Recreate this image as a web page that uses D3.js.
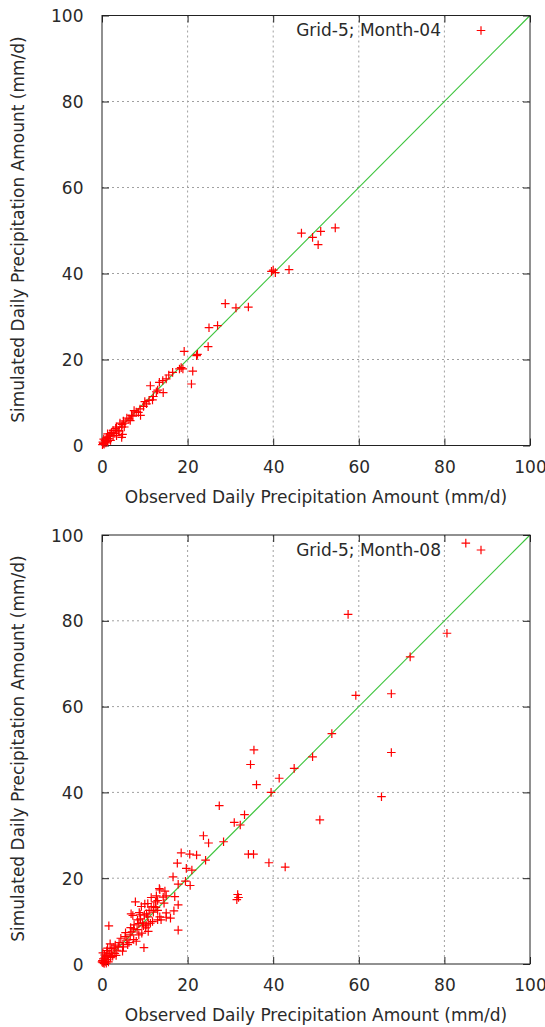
<!DOCTYPE html>
<html><head><meta charset="utf-8">
<script src="https://cdn.jsdelivr.net/npm/d3@7"></script>
<style>body{margin:0;background:#fff}svg{display:block}text{font-family:"DejaVu Sans",sans-serif;fill:#2a2a2a}</style>
</head><body>
<svg id="c" width="545" height="1027"></svg>
<script>
const tickValues = [0, 20, 40, 60, 80, 100];
const xTitle = "Observed Daily Precipitation Amount (mm/d)";
const yTitle = "Simulated Daily Precipitation Amount (mm/d)";
const titles = ["Grid-5; Month-04", "Grid-5; Month-08"];

// Month-04: observed, simulated
const obs04 = [54.5,51.1,46.6,49.2,50.5,43.7,39.6,40.5,40.0,28.8,31.3,34.2,25.0,27.0,24.8,19.2,22.1,22.3,21.2,20.9,18.1,18.9,18.5,15.6,14.2,13.4,11.3,14.3,12.7,12.0,11.8,10.4,9.7,8.9,8.5,9.0,6.9,6.3,7.5,5.0,5.4,4.2,4.6,5.2,3.4,4.6,2.6,1.9,2.6,1.5,0.7,0.3,1.1,3.8,3.4,0.1,0.5,0.2,0.9,1.3,0.4,2.0,1.7,2.2,3.0,4.0,3.2,4.8,5.8,6.6,7.2,8.0,10.0,11.0,13.0,15.0,16.5,4.7,1.3];
const sim04 = [50.6,49.8,49.4,48.4,46.7,40.9,40.5,40.2,40.8,33.0,32.0,32.2,27.4,27.9,23.0,21.9,20.9,21.2,17.3,14.3,17.8,17.8,18.1,16.4,15.1,14.7,13.9,12.3,12.5,11.4,10.6,9.7,9.1,8.5,7.7,7.0,7.0,6.2,8.1,5.7,5.2,5.2,4.3,4.3,4.3,1.9,3.5,2.7,2.3,1.6,1.2,0.5,1.9,3.5,2.3,0.2,0.3,0.8,0.6,0.9,1.5,1.2,2.2,3.0,2.8,3.2,4.0,2.6,6.4,5.8,6.8,7.8,10.2,10.5,12.9,15.5,17.0,4.9,2.7];

// Month-08: observed, simulated
const obs08 = [85.0,57.5,80.6,72.0,59.3,67.6,53.7,35.5,34.7,67.6,49.2,44.9,41.4,36.1,39.5,65.3,27.4,33.3,50.9,30.9,32.3,23.7,24.9,28.4,34.2,35.4,39.0,42.8,18.5,20.5,22.1,24.2,17.6,19.7,21.0,16.6,17.8,19.5,20.6,31.7,31.9,31.5,13.4,13.5,14.7,12.7,15.0,17.0,14.3,7.8,9.2,11.5,12.1,17.8,16.8,15.0,10.4,6.8,7.2,8.9,10.7,13.5,15.0,16.0,13.8,11.8,1.6,8.6,10.8,6.7,7.4,9.7,10.2,9.3,8.6,10.8,17.8,6.6,5.4,4.4,5.8,7.4,4.0,6.3,4.9,9.8,3.1,1.9,3.8,2.3,4.8,3.0,1.1,0.6,0.2,0.5,0.8,1.2,0.3,1.5,2.0,0.1,0.9,1.8,2.5,0.4,1.0,0.0,0.6,1.4,2.2,3.5,2.8,3.3,0.2,1.3,5.0,6.0,8.0,7.0,5.5,8.2,12.0,13.0,14.5,9.0,11.0,12.5,11.5,10.0,13.0,10.7,12.6,8.7,9.9,8.3,7.5,9.5,10.3,13.0,11.3];
const sim08 = [98.1,81.5,77.1,71.6,62.6,63.0,53.7,49.9,46.5,49.3,48.3,45.6,43.3,41.8,40.0,39.0,36.9,34.8,33.6,33.0,32.4,29.9,28.2,28.5,25.6,25.6,23.6,22.6,25.9,25.6,25.4,24.2,23.5,22.3,21.9,20.3,18.6,19.3,18.3,16.2,15.5,15.0,17.6,17.3,17.0,15.9,15.9,15.7,15.6,14.5,13.4,13.3,13.4,13.8,12.4,11.9,11.7,11.7,11.3,11.6,11.0,11.0,10.9,10.7,10.3,9.9,8.9,9.4,9.5,8.5,8.2,8.9,8.4,7.2,6.8,7.6,7.9,6.8,6.4,6.0,5.6,5.7,5.0,5.0,4.6,3.8,4.4,4.7,4.0,3.6,3.0,2.5,3.1,2.1,0.3,0.1,0.6,1.0,1.2,0.5,1.5,0.8,1.8,2.4,1.8,0.4,0.2,0.5,1.4,2.0,2.8,3.2,3.9,2.0,2.6,3.7,4.0,4.5,5.3,7.5,7.3,8.0,12.1,12.5,14.2,10.5,12.5,14.5,15.5,14.0,14.8,14.1,13.2,12.0,11.4,10.3,9.1,9.6,9.1,10.3,9.5];

const svg = d3.select("#c");
const FS = "17px";

function panel(top, bottom, obs, sim, title) {
  const left = 102, right = 530;
  const x = d3.scaleLinear().domain([0, 100]).range([left, right]);
  const y = d3.scaleLinear().domain([0, 100]).range([bottom, top]);
  const g = svg.append("g");

  // grid
  g.append("g").selectAll("line").data(tickValues.slice(1, -1)).join("line")
    .attr("x1", d => x(d)).attr("x2", d => x(d)).attr("y1", top).attr("y2", bottom)
    .attr("stroke", "#a0a0a0").attr("stroke-width", 1).attr("stroke-dasharray", "2,3");
  g.append("g").selectAll("line").data(tickValues.slice(1, -1)).join("line")
    .attr("y1", d => y(d)).attr("y2", d => y(d)).attr("x1", left).attr("x2", right)
    .attr("stroke", "#a0a0a0").attr("stroke-width", 1).attr("stroke-dasharray", "2,3");

  // diagonal
  g.append("line").attr("x1", x(0)).attr("y1", y(0)).attr("x2", x(100)).attr("y2", y(100))
    .attr("stroke", "#3cc43c").attr("stroke-width", 1.1);

  // axes
  const tl = 7;
  const xb = g.append("g").attr("transform", `translate(0,${bottom})`)
    .call(d3.axisBottom(x).tickValues(tickValues).tickSizeInner(-tl).tickSizeOuter(0).tickPadding(14));
  const xt = g.append("g").attr("transform", `translate(0,${top})`)
    .call(d3.axisTop(x).tickValues(tickValues).tickSizeInner(-tl).tickSizeOuter(0).tickFormat(""));
  const yl = g.append("g").attr("transform", `translate(${left},0)`)
    .call(d3.axisLeft(y).tickValues(tickValues).tickSizeInner(-tl).tickSizeOuter(0).tickPadding(18.5));
  const yr = g.append("g").attr("transform", `translate(${right},0)`)
    .call(d3.axisRight(y).tickValues(tickValues).tickSizeInner(-tl).tickSizeOuter(0).tickFormat(""));
  [xb, xt, yl, yr].forEach(a => {
    a.select(".domain").remove();
    a.selectAll("line").attr("stroke", "#222");
    a.selectAll("text").attr("font-family", "DejaVu Sans").attr("font-size", FS).attr("fill", "#2a2a2a");
  });
  xb.selectAll("text").attr("dy", null).attr("y", 27).attr("dominant-baseline", "auto");
  yl.selectAll("text").attr("dy", "0.36em");

  g.append("rect").attr("x", left).attr("y", top).attr("width", right - left).attr("height", bottom - top)
    .attr("fill", "none").attr("stroke", "#222").attr("stroke-width", 1);

  // points
  const pts = obs.map((o, i) => [o, sim[i]]);
  const s = 4.3;
  g.append("g").selectAll("path").data(pts).join("path")
    .attr("d", d => `M${x(d[0]) - s},${y(d[1])}h${2 * s}M${x(d[0])},${y(d[1]) - s}v${2 * s}`)
    .attr("stroke", "#ff0000").attr("stroke-width", 1.2).attr("fill", "none");

  // key
  g.append("text").attr("x", 441).attr("y", top + 20.5).attr("text-anchor", "end")
    .attr("font-size", FS).text(title);
  const kx = 481, ky = top + 15;
  g.append("path").attr("d", `M${kx - s},${ky}h${2 * s}M${kx},${ky - s}v${2 * s}`)
    .attr("stroke", "#ff0000").attr("stroke-width", 1.2);

  // titles
  g.append("text").attr("x", (left + right) / 2).attr("y", bottom + 57).attr("text-anchor", "middle")
    .attr("font-size", FS).text(xTitle);
  g.append("text").attr("transform", `translate(24,${(top + bottom) / 2 - 1}) rotate(-90)`)
    .attr("text-anchor", "middle").attr("font-size", FS).text(yTitle);
}

panel(15.5, 445.5, obs04, sim04, titles[0]);
panel(535, 964, obs08, sim08, titles[1]);
</script>
</body></html>
